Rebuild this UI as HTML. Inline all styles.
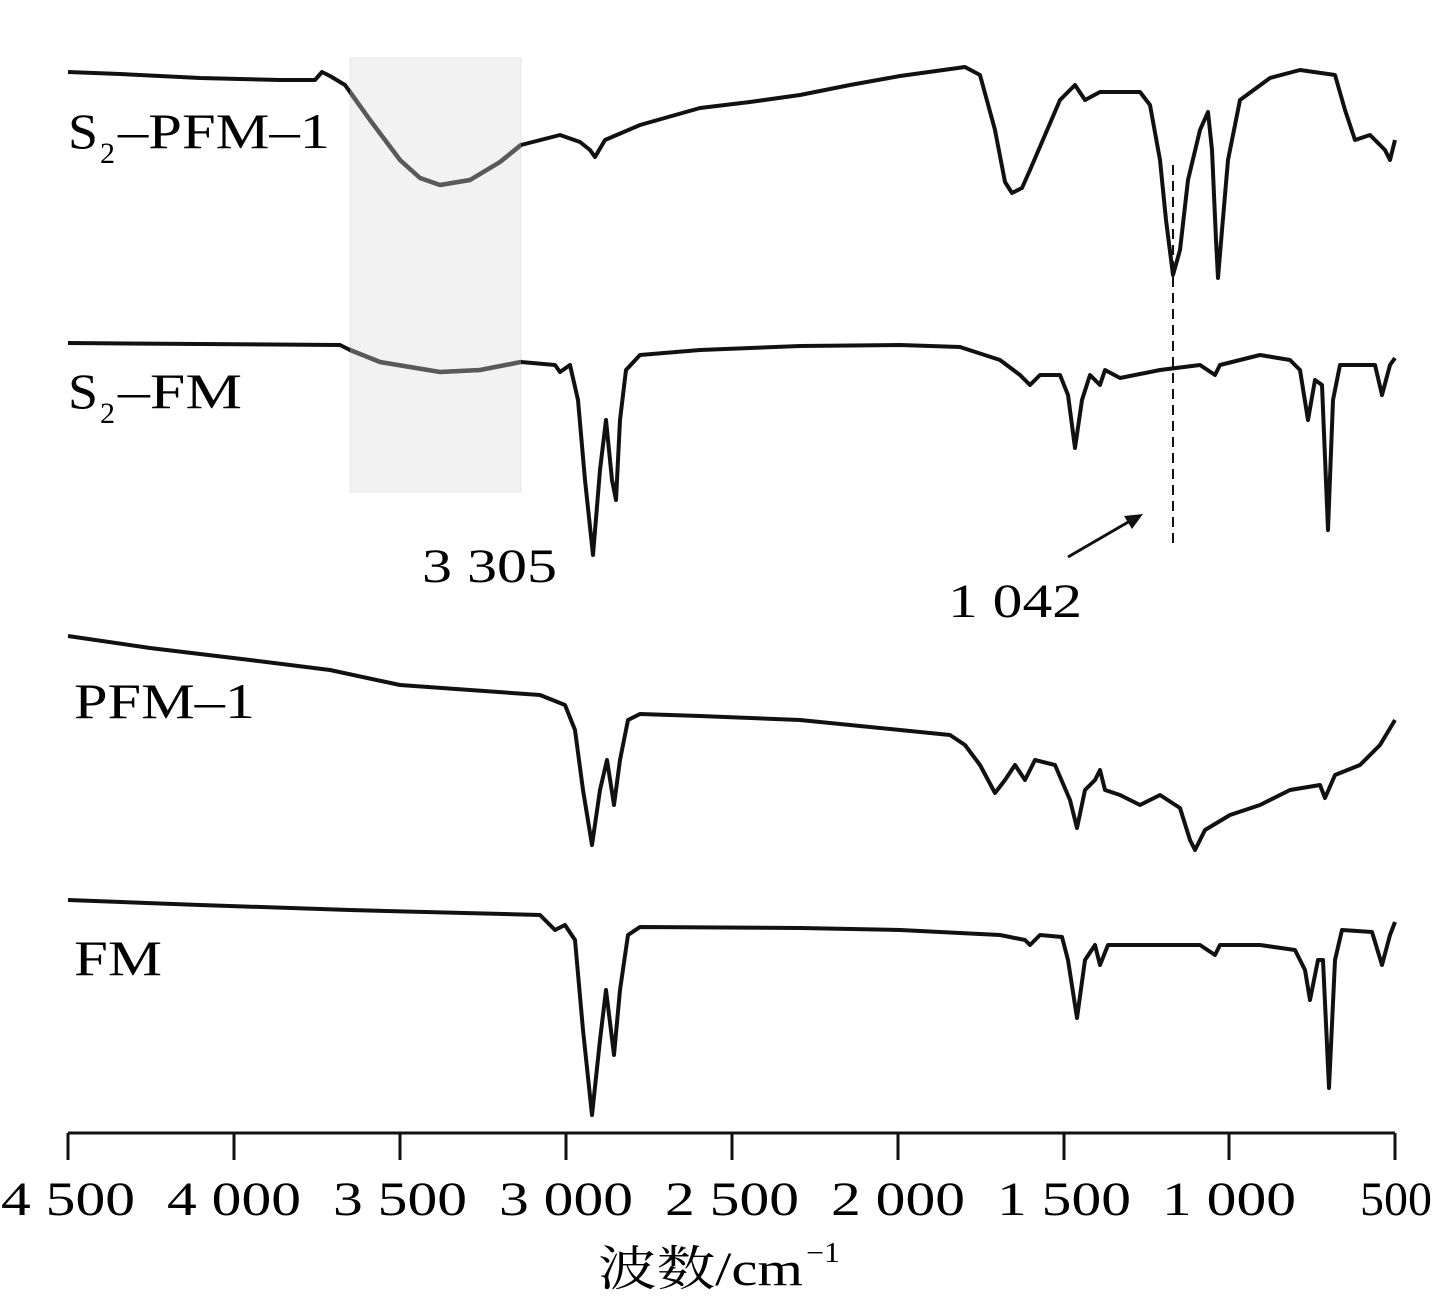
<!DOCTYPE html>
<html><head><meta charset="utf-8"><style>
html,body{margin:0;padding:0;background:#fff}
svg{display:block}
text{font-family:"Liberation Serif","Noto Serif CJK SC",serif;fill:#000}
</style></head><body>
<svg width="1450" height="1302" viewBox="0 0 1450 1302" xmlns="http://www.w3.org/2000/svg">
<defs>
<g id="c">
<polyline points="68,72 120,74 200,78 280,80 315,80 322,72 330,76 345,85 370,120 400,160 420,178 440,185 470,180 500,162 521,145 560,135 580,142 590,150 595,157 605,140 640,125 700,108 750,102 800,95 850,85 900,76 965,67 980,75 995,130 1005,182 1012,193 1022,188 1030,170 1045,135 1060,100 1075,85 1085,100 1100,92 1140,92 1150,105 1160,160 1166,220 1173,275 1180,250 1188,180 1200,130 1208,112 1212,150 1216,240 1218,278 1222,230 1228,160 1240,100 1270,78 1300,70 1335,75 1345,110 1355,140 1370,135 1385,150 1390,160 1395,140"/>
<polyline points="68,343 200,344 340,345 350,350 380,362 440,372 480,370 521,362 555,365 560,372 570,365 578,400 585,480 593,555 600,470 606,420 612,480 616,500 620,420 626,370 640,355 700,350 800,346 900,345 960,347 1000,360 1020,375 1030,385 1040,375 1060,375 1068,395 1075,448 1082,400 1090,375 1100,385 1105,370 1120,378 1160,370 1200,365 1215,375 1220,365 1260,355 1290,360 1300,370 1308,420 1315,380 1322,385 1328,530 1333,400 1340,365 1375,365 1382,395 1390,365 1395,358"/>
<polyline points="68,636 150,648 250,660 330,670 400,685 470,690 540,695 565,705 575,730 583,790 592,845 600,790 607,760 614,805 620,760 628,720 640,714 700,716 800,720 900,730 950,735 965,745 980,765 995,793 1005,780 1015,765 1025,780 1035,760 1055,765 1070,800 1077,828 1085,790 1095,780 1100,770 1105,790 1120,795 1140,805 1160,795 1180,808 1190,840 1195,850 1205,830 1230,815 1260,805 1290,790 1320,785 1325,798 1335,775 1360,765 1380,745 1395,720"/>
<polyline points="68,900 200,905 350,910 540,915 555,930 565,925 575,940 583,1030 592,1115 600,1040 606,990 614,1055 620,990 628,935 640,927 800,928 900,930 1000,935 1025,940 1030,945 1040,935 1062,937 1068,960 1077,1018 1085,960 1095,945 1100,965 1108,945 1200,945 1215,955 1220,945 1260,945 1295,950 1305,970 1310,1000 1318,960 1323,960 1329,1088 1335,960 1342,930 1372,932 1382,965 1390,935 1395,922"/>
</g>
<clipPath id="bx"><rect x="350" y="58" width="171" height="434"/></clipPath>
</defs>
<rect x="350" y="58" width="171" height="434" fill="#f2f2f2" stroke="#e6e6e6" stroke-width="1"/>
<use href="#c" fill="none" stroke="#111" stroke-width="4" stroke-linejoin="round"/>
<use href="#c" fill="none" stroke="#5a5a5a" stroke-width="4.5" stroke-linejoin="round" clip-path="url(#bx)"/>
<line x1="1173" y1="165" x2="1173" y2="548" stroke="#111" stroke-width="2" stroke-dasharray="10,6"/>
<line x1="1068" y1="557" x2="1130" y2="521" stroke="#111" stroke-width="3"/>
<polygon points="1143,514 1124,516 1132,529" fill="#111"/>
<g stroke="#111" stroke-width="3">
<line x1="68" y1="1133" x2="1395" y2="1133"/>
<line x1="68" y1="1133" x2="68" y2="1160"/><line x1="234" y1="1133" x2="234" y2="1160"/><line x1="400" y1="1133" x2="400" y2="1160"/><line x1="566" y1="1133" x2="566" y2="1160"/><line x1="732" y1="1133" x2="732" y2="1160"/><line x1="898" y1="1133" x2="898" y2="1160"/><line x1="1064" y1="1133" x2="1064" y2="1160"/><line x1="1229" y1="1133" x2="1229" y2="1160"/><line x1="1395" y1="1133" x2="1395" y2="1160"/>
</g>
<g font-size="48" lengthAdjust="spacingAndGlyphs">
<text x="1" y="1215" textLength="134" lengthAdjust="spacingAndGlyphs">4 500</text>
<text x="167" y="1215" textLength="134" lengthAdjust="spacingAndGlyphs">4 000</text>
<text x="333" y="1215" textLength="134" lengthAdjust="spacingAndGlyphs">3 500</text>
<text x="499" y="1215" textLength="134" lengthAdjust="spacingAndGlyphs">3 000</text>
<text x="665" y="1215" textLength="134" lengthAdjust="spacingAndGlyphs">2 500</text>
<text x="831" y="1215" textLength="134" lengthAdjust="spacingAndGlyphs">2 000</text>
<text x="997" y="1215" textLength="134" lengthAdjust="spacingAndGlyphs">1 500</text>
<text x="1162" y="1215" textLength="134" lengthAdjust="spacingAndGlyphs">1 000</text>
<text x="1360" y="1215" textLength="72" lengthAdjust="spacingAndGlyphs">500</text>
</g>
<text x="598" y="1285" font-size="48" textLength="205" lengthAdjust="spacingAndGlyphs">波数/cm</text>
<text x="806" y="1262" font-size="28" textLength="34" lengthAdjust="spacingAndGlyphs">−1</text>
<text x="422" y="582" font-size="48" textLength="135" lengthAdjust="spacingAndGlyphs">3 305</text>
<text x="948" y="617" font-size="48" textLength="134" lengthAdjust="spacingAndGlyphs">1 042</text>
<g font-size="50">
<text x="68" y="148" textLength="30" lengthAdjust="spacingAndGlyphs">S</text>
<text x="100" y="163" font-size="30">2</text>
<text x="118" y="148" textLength="212" lengthAdjust="spacingAndGlyphs">–PFM–1</text>
<text x="68" y="408" textLength="30" lengthAdjust="spacingAndGlyphs">S</text>
<text x="100" y="423" font-size="30">2</text>
<text x="118" y="408" textLength="124" lengthAdjust="spacingAndGlyphs">–FM</text>
<text x="74" y="718" textLength="181" lengthAdjust="spacingAndGlyphs">PFM–1</text>
<text x="74" y="975" textLength="88" lengthAdjust="spacingAndGlyphs">FM</text>
</g>
</svg>
</body></html>
